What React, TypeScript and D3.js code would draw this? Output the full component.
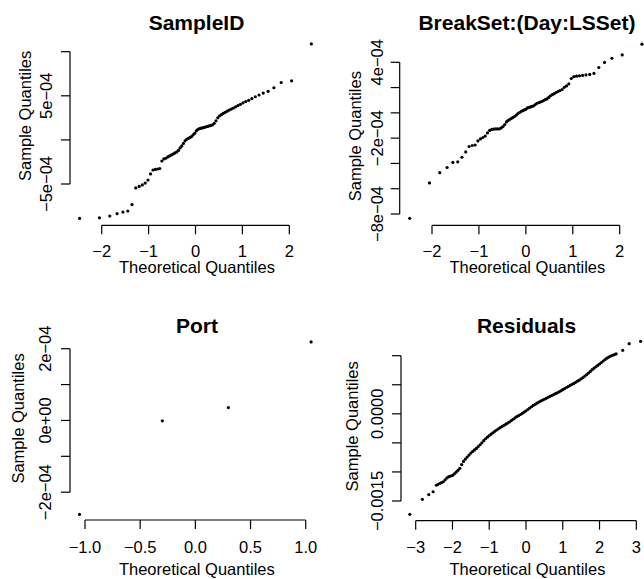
import React from "react";
import * as d3 from "d3";

// ---------- DATA (sample quantiles, in units of 1e-4) ----------
const E4 = 1e-4;

const sampleIdSample = [
  -8.9, -8.83, -8.64, -8.37, -8.18, -8.07, -7.33, -5.45, -5.28, -5.11,
  -4.89, -4.55, -3.86, -3.41, -3.35, -3.3, -3.24, -2.39, -2.16, -2.08,
  -1.93, -1.82, -1.7, -1.59, -1.48, -1.36, -1.19, -0.91, -0.68, -0.4,
  -0.11, 0.06, 0.17, 0.28, 0.38, 0.57, 0.74, 1.02, 1.19, 1.27,
  1.33, 1.36, 1.42, 1.48, 1.53, 1.59, 1.65, 1.7, 1.88, 2.16,
  2.5, 2.73, 2.86, 3.01, 3.13, 3.26, 3.38, 3.49, 3.61, 3.75,
  3.89, 4.03, 4.2, 4.34, 4.49, 4.68, 4.89, 5.09, 5.31, 5.51,
  5.91, 6.51, 6.7, 10.88,
];

const breakSetSample = [
  -8.34, -5.54, -4.73, -4.32, -3.92, -3.87, -3.51, -3.09, -2.66, -2.58,
  -2.54, -2.22, -2.06, -1.95, -1.83, -1.59, -1.39, -1.31, -1.29, -1.27,
  -1.27, -1.26, -1.19, -1.08, -0.92, -0.72, -0.59, -0.51, -0.43, -0.35,
  -0.27, -0.17, -0.05, 0.03, 0.11, 0.17, 0.23, 0.28, 0.39, 0.43,
  0.47, 0.52, 0.56, 0.66, 0.76, 0.8, 0.85, 0.9, 0.97, 1.04,
  1.1, 1.22, 1.35, 1.44, 1.52, 1.61, 1.69, 1.77, 1.85, 2.02,
  2.13, 2.29, 2.72, 2.86, 2.9, 2.93, 2.96, 3.0, 3.04, 3.12,
  3.59, 3.99, 4.32, 4.58, 5.43,
];

const portSample = [-2.62, -0.01, 0.36, 2.19];

// Residuals: (theoretical, sample) pairs
const residualTheoretical = [
  -3.16, -2.818, -2.644, -2.527, -2.438,
  -2.4, -2.35, -2.3, -2.25, -2.2, -2.15, -2.1, -2.05, -2.0, -1.95,
  -1.9, -1.85, -1.8, -1.75, -1.7, -1.65, -1.6, -1.55, -1.5, -1.45,
  -1.4, -1.35, -1.3, -1.25, -1.2, -1.15, -1.1, -1.05, -1.0, -0.95,
  -0.9, -0.85, -0.8, -0.75, -0.7, -0.65, -0.6, -0.55, -0.5, -0.45,
  -0.4, -0.35, -0.3, -0.25, -0.2, -0.15, -0.1, -0.05, 0.0, 0.05,
  0.1, 0.15, 0.2, 0.25, 0.3, 0.35, 0.4, 0.45, 0.5, 0.55,
  0.6, 0.65, 0.7, 0.75, 0.8, 0.85, 0.9, 0.95, 1.0, 1.05,
  1.1, 1.15, 1.2, 1.25, 1.3, 1.35, 1.4, 1.45, 1.5, 1.55,
  1.6, 1.65, 1.7, 1.75, 1.8, 1.85, 1.9, 1.95, 2.0, 2.05,
  2.1, 2.15, 2.2, 2.25, 2.3, 2.35, 2.4, 2.45,
  2.63, 2.807, 3.117,
];
const residualSample = [
  -17.29, -14.71, -13.9, -13.41, -12.29,
  -12.16, -11.99, -11.85, -11.69, -11.35, -11.03, -10.82, -10.71, -10.6, -10.35,
  -10.04, -9.72, -9.38, -8.74, -8.19, -7.8, -7.44, -7.09, -6.75, -6.47,
  -6.22, -5.96, -5.64, -5.32, -4.99, -4.62, -4.29, -4.02, -3.75, -3.5,
  -3.26, -3.02, -2.78, -2.58, -2.37, -2.17, -1.98, -1.79, -1.6, -1.41,
  -1.17, -0.93, -0.69, -0.47, -0.3, -0.12, 0.09, 0.3, 0.51, 0.74,
  0.98, 1.22, 1.46, 1.65, 1.84, 2.03, 2.2, 2.36, 2.51, 2.67,
  2.83, 2.99, 3.15, 3.31, 3.46, 3.62, 3.78, 3.96, 4.15, 4.34,
  4.53, 4.7, 4.88, 5.05, 5.23, 5.42, 5.61, 5.8, 6.02, 6.25,
  6.49, 6.73, 7.01, 7.3, 7.59, 7.86, 8.1, 8.33, 8.57, 8.83,
  9.09, 9.35, 9.58, 9.76, 9.94, 10.06, 10.18, 10.31,
  10.93, 12.07, 12.48,
];

// ---------- TICKS ----------
const xTicksSampleId = [-2, -1, 0, 1, 2];
const yTicksSampleId = [-5e-4, 0, 5e-4, 1e-3];
const yLabelsSampleId = ["−5e−04", "", "5e−04", ""];

const xTicksBreakSet = [-2, -1, 0, 1, 2];
const yTicksBreakSet = [-8e-4, -6e-4, -4e-4, -2e-4, 0, 2e-4, 4e-4];
const yLabelsBreakSet = ["−8e−04", "", "", "−2e−04", "", "", "4e−04"];

const xTicksPort = [-1, -0.5, 0, 0.5, 1];
const xLabelsPort = ["−1.0", "−0.5", "0.0", "0.5", "1.0"];
const yTicksPort = [-2e-4, -1e-4, 0, 1e-4, 2e-4];
const yLabelsPort = ["−2e−04", "", "0e+00", "", "2e−04"];

const xTicksResid = [-3, -2, -1, 0, 1, 2, 3];
const yTicksResid = [-0.0015, -0.001, -0.0005, 0, 0.0005, 0.001];
const yLabelsResid = ["−0.0015", "", "", "0.0000", "", ""];

// ---------- qqnorm helpers ----------
function qnorm(p: number): number {
  const a = [-39.69683028665376, 220.9460984245205, -275.9285104469687, 138.357751867269, -30.66479806614716, 2.506628277459239];
  const b = [-54.47609879822406, 161.5858368580409, -155.6989798598866, 66.80131188771972, -13.28068155288572];
  const c = [-0.007784894002430293, -0.3223964580411365, -2.400758277161838, -2.549732539343734, 4.374664141464968, 2.938163982698783];
  const d = [0.007784695709041462, 0.3224671290700398, 2.445134137142996, 3.754408661907416];
  const pl = 0.02425;
  if (p < pl) {
    const q = Math.sqrt(-2 * Math.log(p));
    return (((((c[0] * q + c[1]) * q + c[2]) * q + c[3]) * q + c[4]) * q + c[5]) / ((((d[0] * q + d[1]) * q + d[2]) * q + d[3]) * q + 1);
  }
  if (p <= 1 - pl) {
    const q = p - 0.5, r = q * q;
    return ((((((a[0] * r + a[1]) * r + a[2]) * r + a[3]) * r + a[4]) * r + a[5]) * q) / (((((b[0] * r + b[1]) * r + b[2]) * r + b[3]) * r + b[4]) * r + 1);
  }
  const q = Math.sqrt(-2 * Math.log(1 - p));
  return -(((((c[0] * q + c[1]) * q + c[2]) * q + c[3]) * q + c[4]) * q + c[5]) / ((((d[0] * q + d[1]) * q + d[2]) * q + d[3]) * q + 1);
}
function qqnorm(sample: number[]): [number, number][] {
  const n = sample.length;
  const a = n <= 10 ? 3 / 8 : 0.5;
  const sorted = [...sample].sort((u, v) => u - v);
  return sorted.map((y, i) => [qnorm((i + 1 - a) / (n + 1 - 2 * a)), y * E4]);
}

type Panel = {
  title: string;
  points: [number, number][];
  xTicks: number[];
  xLabels: string[];
  yTicks: number[];
  yLabels: string[];
  xRange: [number, number]; // pixel of first / last x tick
  yRange: [number, number]; // pixel of first / last y tick
  axisX: number; // x of y-axis line
  axisY: number; // y of x-axis line
  titleX: number;
  titleY: number;
  xLabY: number;
  xTitleY: number;
  yLabX: number;
  yTitleX: number;
};

const fmtInt = (v: number) => (v < 0 ? "−" + Math.abs(v) : String(v));

const panels: Panel[] = [
  {
    title: "SampleID",
    points: qqnorm(sampleIdSample),
    xTicks: xTicksSampleId,
    xLabels: xTicksSampleId.map(fmtInt),
    yTicks: yTicksSampleId,
    yLabels: yLabelsSampleId,
    xRange: [101.7, 289.3],
    yRange: [184, 51.7],
    axisX: 70,
    axisY: 225.3,
    titleX: 196.5,
    titleY: 30,
    xLabY: 256.5,
    xTitleY: 273,
    yLabX: 46.5,
    yTitleX: 25,
  },
  {
    title: "BreakSet:(Day:LSSet)",
    points: qqnorm(breakSetSample),
    xTicks: xTicksBreakSet,
    xLabels: xTicksBreakSet.map(fmtInt),
    yTicks: yTicksBreakSet,
    yLabels: yLabelsBreakSet,
    xRange: [432, 619.7],
    yRange: [214, 62.3],
    axisX: 399.7,
    axisY: 225.3,
    titleX: 527,
    titleY: 30,
    xLabY: 256.5,
    xTitleY: 273,
    yLabX: 377.5,
    yTitleX: 355,
  },
  {
    title: "Port",
    points: qqnorm(portSample),
    xTicks: xTicksPort,
    xLabels: xLabelsPort,
    yTicks: yTicksPort,
    yLabels: yLabelsPort,
    xRange: [85, 305.7],
    yRange: [492.2, 348.7],
    axisX: 70,
    axisY: 520,
    titleX: 197,
    titleY: 333.3,
    xLabY: 552.5,
    xTitleY: 575,
    yLabX: 45,
    yTitleX: 18.5,
  },
  {
    title: "Residuals",
    points: residualTheoretical.map((q, i) => [q, residualSample[i] * E4] as [number, number]),
    xTicks: xTicksResid,
    xLabels: xTicksResid.map(fmtInt),
    yTicks: yTicksResid,
    yLabels: yLabelsResid,
    xRange: [415.7, 636.3],
    yRange: [501, 355.7],
    axisX: 401,
    axisY: 520.7,
    titleX: 526.5,
    titleY: 333.3,
    xLabY: 553,
    xTitleY: 575,
    yLabX: 377,
    yTitleX: 352,
  },
];

const FONT = "'Liberation Sans', Arial, Helvetica, sans-serif";
const AXIS_FS = 16.5;
const TITLE_FS = 21;
const TICK = 9;

function PanelView({ p }: { p: Panel }) {
  const xs = d3
    .scaleLinear()
    .domain([p.xTicks[0], p.xTicks[p.xTicks.length - 1]])
    .range(p.xRange);
  const ys = d3
    .scaleLinear()
    .domain([p.yTicks[0], p.yTicks[p.yTicks.length - 1]])
    .range(p.yRange);
  const xMid = (xs(p.xTicks[0]) + xs(p.xTicks[p.xTicks.length - 1])) / 2;
  const yMid = (p.yRange[0] + p.yRange[1]) / 2 - 2;
  return (
    <g>
      <text x={p.titleX} y={p.titleY} textAnchor="middle" fontWeight="bold" fontSize={TITLE_FS}>
        {p.title}
      </text>
      {p.points.map((d, i) => (
        <circle key={i} cx={xs(d[0])} cy={ys(d[1])} r={1.6} fill="#000" />
      ))}
      {/* x axis */}
      <line x1={xs(p.xTicks[0])} x2={xs(p.xTicks[p.xTicks.length - 1])} y1={p.axisY} y2={p.axisY} stroke="#000" strokeWidth={1.2} />
      {p.xTicks.map((t, i) => (
        <g key={"xt" + i}>
          <line x1={xs(t)} x2={xs(t)} y1={p.axisY} y2={p.axisY + TICK} stroke="#000" strokeWidth={1.2} />
          <text x={xs(t)} y={p.xLabY} textAnchor="middle" fontSize={AXIS_FS}>
            {p.xLabels[i]}
          </text>
        </g>
      ))}
      <text x={xMid + 1.5} y={p.xTitleY} textAnchor="middle" fontSize={AXIS_FS}>
        Theoretical Quantiles
      </text>
      {/* y axis */}
      <line x1={p.axisX} x2={p.axisX} y1={ys(p.yTicks[0])} y2={ys(p.yTicks[p.yTicks.length - 1])} stroke="#000" strokeWidth={1.2} />
      {p.yTicks.map((t, i) => (
        <g key={"yt" + i}>
          <line x1={p.axisX - TICK} x2={p.axisX} y1={ys(t)} y2={ys(t)} stroke="#000" strokeWidth={1.2} />
          {p.yLabels[i] ? (
            <text
              transform={`translate(${p.yLabX},${ys(t)}) rotate(-90)`}
              textAnchor="middle"
              dy="0.36em"
              fontSize={AXIS_FS}
            >
              {p.yLabels[i]}
            </text>
          ) : null}
        </g>
      ))}
      <text
        transform={`translate(${p.yTitleX},${yMid}) rotate(-90)`}
        textAnchor="middle"
        dy="0.36em"
        fontSize={AXIS_FS}
      >
        Sample Quantiles
      </text>
    </g>
  );
}

export default function App() {
  return (
    <svg
      width={644}
      height={579}
      style={{ position: "absolute", left: 0, top: 0, background: "#fff" }}
      fontFamily={FONT}
      fill="#000"
    >
      <rect width={644} height={579} fill="#fff" />
      {panels.map((p, i) => (
        <PanelView key={i} p={p} />
      ))}
    </svg>
  );
}
